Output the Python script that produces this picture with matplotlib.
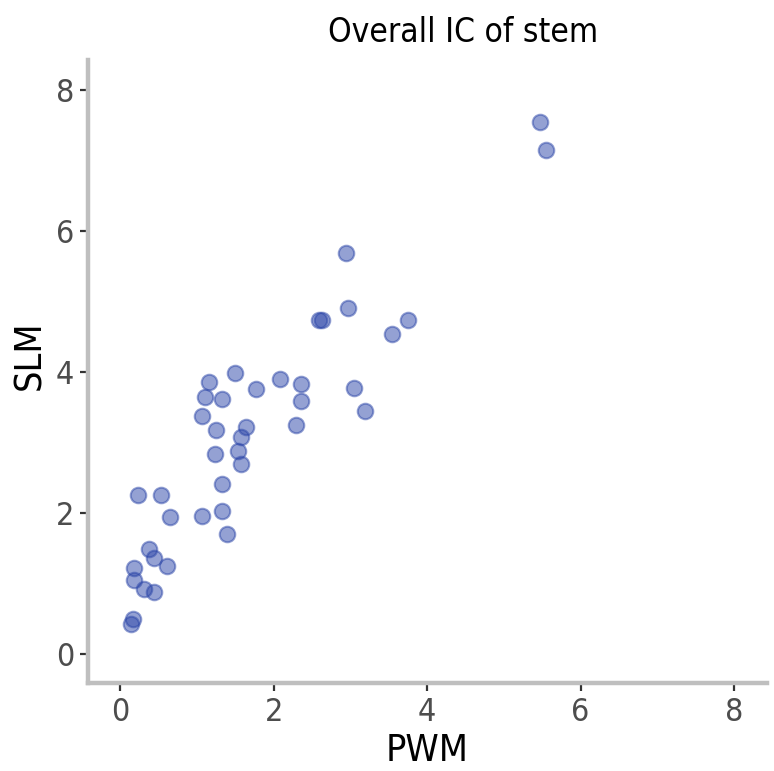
import matplotlib
matplotlib.use('Agg')
import matplotlib.pyplot as plt

plt.rcParams['font.family'] = ['Liberation Sans Narrow', 'DejaVu Sans']
plt.rcParams['font.stretch'] = 'condensed'

# PWM vs SLM values
pwm = [5.47, 5.55, 2.94, 2.97, 2.59, 2.63, 3.75, 3.54, 1.50, 1.16,
       2.08, 2.36, 1.77, 3.05, 1.11, 1.32, 2.36, 3.19, 1.07, 2.29,
       1.64, 1.25, 1.58, 1.54, 1.24, 1.58, 1.32, 0.23, 0.53, 0.65,
       1.07, 1.33, 1.39, 0.38, 0.44, 0.18, 0.18, 0.31, 0.44, 0.16,
       0.14, 0.61]
slm = [7.55, 7.15, 5.70, 4.91, 4.74, 4.74, 4.74, 4.54, 3.99, 3.86,
       3.90, 3.84, 3.76, 3.77, 3.65, 3.62, 3.59, 3.45, 3.38, 3.25,
       3.23, 3.18, 3.08, 2.89, 2.84, 2.70, 2.41, 2.26, 2.26, 1.94,
       1.96, 2.03, 1.70, 1.49, 1.36, 1.22, 1.05, 0.92, 0.88, 0.50,
       0.43, 1.25]
ticks = [0, 2, 4, 6, 8]

fig = plt.figure(figsize=(7.74, 7.71), dpi=100)
ax = fig.add_axes([0.1137, 0.1141, 0.8773, 0.8079])

ax.scatter(pwm, slm, s=125, color='#2b45a8', alpha=0.5, linewidths=1.5, zorder=3)

ax.set_xlim(-0.42, 8.43)
ax.set_ylim(-0.41, 8.43)
ax.set_xticks(ticks)
ax.set_yticks(ticks)

for side in ['top', 'right']:
    ax.spines[side].set_visible(False)
for side in ['left', 'bottom']:
    ax.spines[side].set_color('#bfbfbf')
    ax.spines[side].set_linewidth(3.2)
ax.tick_params(axis='both', length=6, width=1.6, color='#333333',
               labelsize=23, labelcolor='#4d4d4d', pad=4)

ax.set_xlabel('PWM', fontsize=27, color='black', labelpad=4)
ax.set_ylabel('SLM', fontsize=27, color='black')
ax.yaxis.set_label_coords(-0.058, 0.526)
fig.text(0.598, 0.958, 'Overall IC of stem', fontsize=24, ha='center', va='center')

fig.savefig('out.png', dpi=100)
